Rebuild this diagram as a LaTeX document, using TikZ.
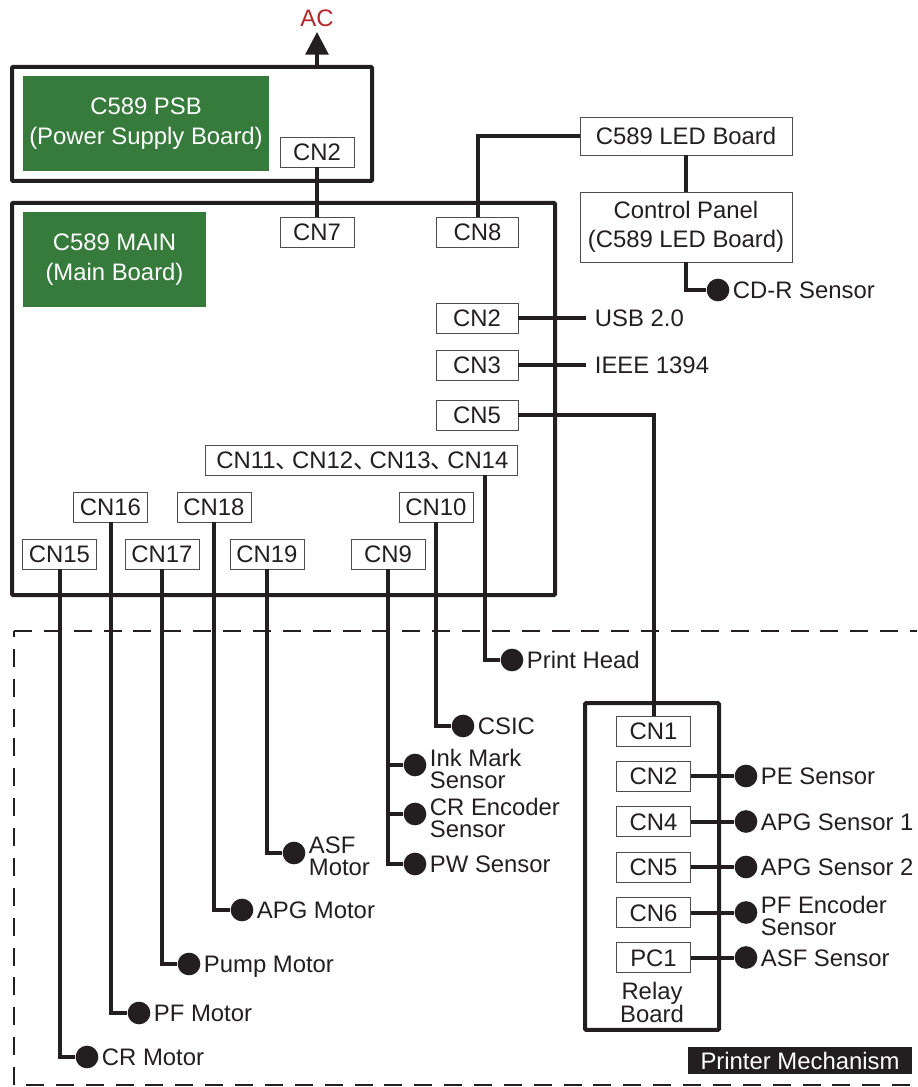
\documentclass[tikz,border=0pt]{standalone}
\usepackage{fontspec}
\setmainfont{Liberation Sans}
\newfontfamily\cjk{Noto Sans CJK SC}
\usepackage{tikz}
\usetikzlibrary{arrows.meta, positioning}
\definecolor{boardgreen}{HTML}{367A3C}
\definecolor{inkblack}{HTML}{231F20}
\definecolor{acred}{HTML}{B5272D}
\tikzstyle{frame} = [rectangle, draw=inkblack, line width=3pt, inner sep=0pt, rounded corners=0.8pt]
\tikzstyle{board} = [rectangle, fill=boardgreen, text=white, inner sep=0pt, align=center, font=\fontsize{17.9}{22}\selectfont]
\tikzstyle{cnbox} = [rectangle, draw=inkblack!80, line width=0.7pt, fill=white, inner sep=0pt, minimum width=55.5pt, minimum height=22.5pt, text=inkblack, text height=12.8pt, text depth=0pt]
\tikzstyle{unit} = [cnbox, minimum width=159pt, text height={}, text depth={}, align=center, font=\fontsize{17.9}{22}\selectfont]
\tikzstyle{wire} = [draw=inkblack, line width=3pt]
\tikzstyle{sensor} = [circle, fill=inkblack, inner sep=0pt, minimum size=17pt]
\tikzstyle{tag} = [text=inkblack, inner sep=0pt, text height=12.8pt, text depth=0pt]
\tikzstyle{tagtwo} = [text=inkblack, inner sep=0pt, yshift=-2.6pt, align=left, font=\fontsize{17.9}{16.5}\selectfont]
\tikzstyle{mechline} = [inkblack, line width=1.8pt, dash pattern=on 13.5pt off 8.9pt]

\begin{document}
\begin{tikzpicture}[x=0.75pt, y=-0.75pt, every node/.style={font=\fontsize{17.9}{22}\selectfont}]
    \useasboundingbox (0,0) rectangle (917,1087);

    % Printer mechanism outline
    \draw [mechline] (14,631) -- (917,631);
    \draw [mechline] (14,1085) -- (14,631);
    \draw [mechline] (26,1085) -- (917,1085);
    \node (mech) [rectangle, fill=inkblack, text=white, inner sep=0pt, minimum width=168pt, minimum height=20.5pt] at (800,1060.5) {Printer Mechanism};

    % Power supply board
    \node (psb) [frame, minimum width=270pt, minimum height=85.5pt] at (192,124) {};
    \node (psbname) [board, minimum width=184.5pt, minimum height=71.25pt] at (146,123.5) {\raisebox{-0.7pt}{C589 PSB} \\ \raisebox{-0.7pt}{(Power Supply Board)}};
    \node (psbcn2) [cnbox] at (317,152) {CN2};
    \node (ac) [text=acred] at (317,18) {AC};
    \coordinate (actip) at (317,32);

    % Main board
    \node (main) [frame, minimum width=407.25pt, minimum height=294pt] at (283.5,399) {};
    \node (mainname) [board, minimum width=137.25pt, minimum height=71.25pt] at (114.5,259.5) {\raisebox{-0.7pt}{C589 MAIN} \\ \raisebox{-0.7pt}{(Main Board)}};
    \node (cn7) [cnbox] at (317,232) {CN7};
    \node (cn8) [cnbox, minimum width=61.5pt] at (477.5,232) {CN8};
    \node (cn2) [cnbox, minimum width=61.5pt] at (477,318) {CN2};
    \node (cn3) [cnbox, minimum width=61.5pt] at (477,365) {CN3};
    \node (cn5) [cnbox, minimum width=61.5pt] at (477,415) {CN5};
    \node (cn11) [cnbox, minimum width=234pt] at (361,460) {\kern2pt CN11{\cjk 、}\kern-5.5pt CN12{\cjk 、}\kern-5.5pt CN13{\cjk 、}\kern-5.5pt CN14};
    \node (cn16) [cnbox] at (110.5,507) {CN16};
    \node (cn18) [cnbox] at (214,507) {CN18};
    \node (cn10) [cnbox] at (436,507) {CN10};
    \node (cn15) [cnbox] at (59.5,554) {CN15};
    \node (cn17) [cnbox] at (162,554) {CN17};
    \node (cn19) [cnbox] at (267,554) {CN19};
    \node (cn9) [cnbox] at (388,554) {CN9};

    % LED board and control panel
    \node (led) [unit, minimum height=28.5pt] at (686,136) {C589 LED Board};
    \node (panel) [unit, minimum height=52.5pt] at (686,227) {Control Panel \\ (C589 LED Board)};
    \node (cdrdot) [sensor] at (718,290) {};
    \node (cdr) [tag, right=2.3pt of cdrdot] {CD-R Sensor};
    \coordinate (usbend) at (586,318);
    \coordinate (ieeeend) at (586,365);
    \node (usb) [tag, right=6.5pt of usbend] {USB 2.0};
    \node (ieee) [tag, right=6.5pt of ieeeend] {IEEE 1394};

    % Relay board
    \node (relay) [frame, minimum width=100.5pt, minimum height=245pt] at (652,866.5) {};
    \node (rcn1) [cnbox] at (653.5,731) {CN1};
    \node (rcn2) [cnbox] at (653.5,776) {CN2};
    \node (rcn4) [cnbox] at (653.5,821.5) {CN4};
    \node (rcn5) [cnbox] at (653.5,867) {CN5};
    \node (rcn6) [cnbox] at (653.5,912.5) {CN6};
    \node (pc1) [cnbox] at (653.5,957.5) {PC1};
    \node (relayname) [tagtwo, align=center, yshift=2.7pt] at (652,1002.5) {Relay \\ Board};

    % Relay sensors
    \node (pedot) [sensor] at (746,776) {};
    \node (apg1dot) [sensor] at (746,821.5) {};
    \node (apg2dot) [sensor] at (746,867) {};
    \node (pfedot) [sensor] at (746,912.5) {};
    \node (asfsdot) [sensor] at (746,957.5) {};
    \node (pe) [tag, right=2.3pt of pedot] {PE Sensor};
    \node (apg1) [tag, right=2.3pt of apg1dot] {APG Sensor 1};
    \node (apg2) [tag, right=2.3pt of apg2dot] {APG Sensor 2};
    \node (pfe) [tagtwo, right=2.3pt of pfedot] {PF Encoder \\ Sensor};
    \node (asfs) [tag, right=2.3pt of asfsdot] {ASF Sensor};

    % Mechanism parts
    \coordinate (headtap) at (485,475);
    \node (headdot) [sensor] at (512,660) {};
    \node (csicdot) [sensor] at (463,726) {};
    \node (inkdot) [sensor] at (415,765) {};
    \node (crencdot) [sensor] at (415,814) {};
    \node (pwdot) [sensor] at (415,864) {};
    \node (asfdot) [sensor] at (294,853) {};
    \node (apgdot) [sensor] at (242,910) {};
    \node (pumpdot) [sensor] at (189,964) {};
    \node (pfdot) [sensor] at (139,1013) {};
    \node (crdot) [sensor] at (87,1057) {};
    \node (head) [tag, right=2.3pt of headdot] {Print Head};
    \node (csic) [tag, right=2.3pt of csicdot] {CSIC};
    \node (ink) [tagtwo, right=2.3pt of inkdot] {Ink Mark \\ Sensor};
    \node (crenc) [tagtwo, right=2.3pt of crencdot] {CR Encoder \\ Sensor};
    \node (pw) [tag, right=2.3pt of pwdot] {PW Sensor};
    \node (asf) [tagtwo, right=2.3pt of asfdot] {ASF \\ Motor};
    \node (apg) [tag, right=2.3pt of apgdot] {APG Motor};
    \node (pump) [tag, right=2.3pt of pumpdot] {Pump Motor};
    \node (pf) [tag, right=2.3pt of pfdot] {PF Motor};
    \node (cr) [tag, right=2.3pt of crdot] {CR Motor};

    % Connections
    \draw [wire, -{Triangle[length=17pt, width=17pt]}] (psb.north -| psbcn2) -- (actip);
    \draw [wire] (psbcn2) -- (cn7);
    \draw [wire] (cn8.north) |- (led.west);
    \draw [wire] (led) -- (panel);
    \draw [wire] (panel.south) |- (cdrdot);
    \draw [wire] (cn2) -- (usbend);
    \draw [wire] (cn3) -- (ieeeend);
    \draw [wire] (cn5.east) -| (rcn1.north);
    \draw [wire] (headtap) |- (headdot);
    \draw [wire] (cn10.south) |- (csicdot);
    \draw [wire] (cn9.south) |- (pwdot);
    \draw [wire] (cn9 |- inkdot) -- (inkdot);
    \draw [wire] (cn9 |- crencdot) -- (crencdot);
    \draw [wire] (cn19.south) |- (asfdot);
    \draw [wire] (cn18.south) |- (apgdot);
    \draw [wire] (cn17.south) |- (pumpdot);
    \draw [wire] (cn16.south) |- (pfdot);
    \draw [wire] (cn15.south) |- (crdot);
    \draw [wire] (rcn2) -- (pedot);
    \draw [wire] (rcn4) -- (apg1dot);
    \draw [wire] (rcn5) -- (apg2dot);
    \draw [wire] (rcn6) -- (pfedot);
    \draw [wire] (pc1) -- (asfsdot);
\end{tikzpicture}
\end{document}
